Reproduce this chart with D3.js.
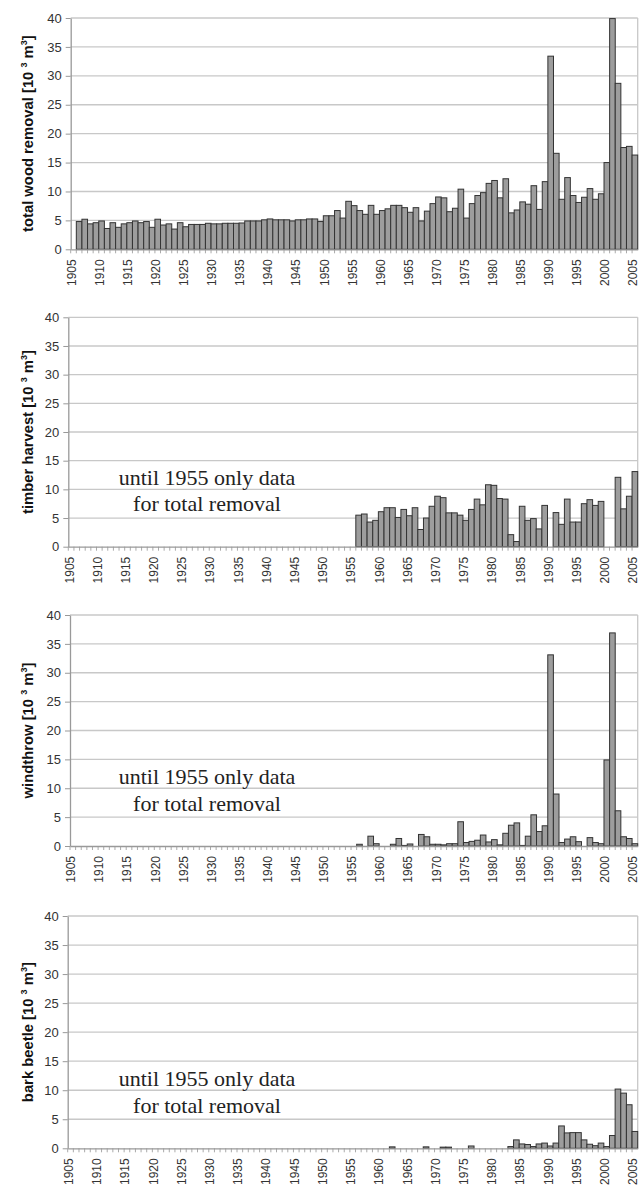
<!DOCTYPE html>
<html lang="en">
<head>
<meta charset="utf-8">
<script src="https://cdn.jsdelivr.net/npm/d3@7"></script>
<style>
  body { margin: 0; background: #fff; }
  svg { display: block; }
</style>
</head>
<body>
<svg id="chart" width="640" height="1187"></svg>
<script>
// categories
var years = d3.range(1905, 2006);
var yTicks = [0, 5, 10, 15, 20, 25, 30, 35, 40];

// total wood removal, 1906-2005 (1905 has no bar)
var totalFirst = 1906;
var totalRemoval = [
  4.8, 5.2, 4.4, 4.6, 4.9, 3.6, 4.6, 3.8, 4.4, 4.6,
  4.9, 4.6, 4.8, 3.8, 5.2, 4.2, 4.4, 3.5, 4.6, 3.9,
  4.3, 4.3, 4.3, 4.5, 4.4, 4.4, 4.5, 4.5, 4.5, 4.55,
  4.9, 4.9, 4.9, 5.1, 5.25, 5.1, 5.1, 5.1, 4.9, 5.1,
  5.1, 5.25, 5.25, 4.8, 5.8, 5.8, 6.7, 5.4, 8.3, 7.55,
  6.7, 6.05, 7.6, 6.05, 6.7, 7.0, 7.6, 7.6, 7.2, 6.4,
  7.2, 4.9, 6.6, 7.9, 9.05, 8.9, 6.5, 7.1, 10.4, 5.4,
  7.9, 9.3, 9.8, 11.4, 11.9, 8.9, 12.2, 6.3, 6.8, 8.2,
  7.8, 11.0, 6.9, 11.7, 33.4, 16.6, 8.65, 12.4, 9.3, 8.1,
  9.0, 10.5, 8.65, 9.6, 15.0, 39.9, 28.7, 17.6, 17.8, 16.3
];

// split series, 1956-2005
var splitFirst = 1956;
var timberHarvest = [
  5.5, 5.7, 4.3, 4.6, 6.1, 6.8, 6.8, 5.1, 6.5, 5.4,
  6.8, 3.0, 5.0, 7.05, 8.8, 8.55, 5.9, 5.9, 5.5, 4.6,
  6.5, 8.3, 7.3, 10.8, 10.7, 8.4, 8.3, 2.1, 0.9, 7.05,
  4.6, 4.9, 3.1, 7.2, 0, 5.95, 3.9, 8.3, 4.3, 4.3,
  7.5, 8.2, 7.2, 7.9, 0, 0, 12.1, 6.6, 8.8, 13.1
];
var windthrow = [
  0.3, 0, 1.7, 0.4, 0, 0, 0.3, 1.3, 0.1, 0.35,
  0, 2.0, 1.6, 0.3, 0.3, 0.2, 0.4, 0.4, 4.2, 0.6,
  0.8, 1.0, 1.9, 0.7, 1.1, 0.2, 2.2, 3.6, 4.0, 0.1,
  1.7, 5.4, 2.5, 3.5, 33.1, 9.0, 0.6, 1.2, 1.6, 0.75,
  0, 1.45, 0.6, 0.4, 14.9, 36.9, 6.1, 1.6, 1.3, 0.4
];
var barkBeetle = [
  0, 0, 0, 0, 0, 0, 0.25, 0, 0, 0,
  0, 0, 0.25, 0, 0, 0.2, 0.2, 0, 0, 0,
  0.4, 0, 0, 0, 0, 0, 0, 0.3, 1.45, 0.75,
  0.65, 0.3, 0.75, 0.9, 0.4, 0.9, 3.85, 2.65, 2.7, 2.7,
  1.45, 0.7, 0.45, 0.9, 0.3, 2.2, 10.2, 9.5, 7.5, 2.9
];

var titles = ["total wood removal", "timber harvest", "windthrow", "bark beetle"];
var noteLines = ["until 1955 only data", "for total removal"];

var panels = [
  { title: titles[0], values: totalRemoval, first: totalFirst, note: false, left: 70.7, top: 18, bottom: 249.3 },
  { title: titles[1], values: timberHarvest, first: splitFirst, note: true, left: 68.3, top: 317.3, bottom: 546.7 },
  { title: titles[2], values: windthrow, first: splitFirst, note: true, left: 70, top: 615, bottom: 846 },
  { title: titles[3], values: barkBeetle, first: splitFirst, note: true, left: 67.7, top: 916, bottom: 1148.3 }
];
var right = 637.7;

var svg = d3.select("#chart");

panels.forEach(function (p) {
  var g = svg.append("g");
  var x = d3.scaleBand().domain(years).range([p.left, right]).padding(0);
  var y = d3.scaleLinear().domain([0, 40]).range([p.bottom, p.top]);

  // grid
  g.selectAll("line.grid")
    .data(yTicks.filter(function (d) { return d > 0; }))
    .enter().append("line")
    .attr("x1", p.left).attr("x2", right)
    .attr("y1", function (d) { return y(d); })
    .attr("y2", function (d) { return y(d); })
    .attr("stroke", "#c8c8c8").attr("stroke-width", 1.3);
  g.append("line")
    .attr("x1", right).attr("x2", right)
    .attr("y1", p.top).attr("y2", p.bottom)
    .attr("stroke", "#c8c8c8").attr("stroke-width", 1.3);

  // minor ticks between categories
  g.selectAll("line.minor")
    .data(years)
    .enter().append("line")
    .attr("x1", function (d) { return x(d); })
    .attr("x2", function (d) { return x(d); })
    .attr("y1", p.bottom).attr("y2", p.bottom + 4)
    .attr("stroke", "#aaa").attr("stroke-width", 1);

  // bars
  var rows = p.values.map(function (v, i) { return { year: p.first + i, value: v }; })
    .filter(function (d) { return d.value > 0; });
  g.selectAll("rect")
    .data(rows)
    .enter().append("rect")
    .attr("x", function (d) { return x(d.year); })
    .attr("width", x.bandwidth())
    .attr("y", function (d) { return y(d.value); })
    .attr("height", function (d) { return p.bottom - y(d.value); })
    .attr("fill", "#9d9d9d")
    .attr("stroke", "#333")
    .attr("stroke-width", 1);

  // y axis
  var ya = g.append("g")
    .attr("transform", "translate(" + p.left + ",0)")
    .call(d3.axisLeft(y).tickValues(yTicks).tickSize(5).tickPadding(4).tickSizeOuter(0));
  ya.select(".domain").attr("stroke", "#999").attr("stroke-width", 1.3);
  ya.selectAll(".tick line").attr("stroke", "#999");
  ya.selectAll(".tick text")
    .attr("font-family", "'Liberation Sans', Arial, sans-serif")
    .attr("font-size", 13).attr("fill", "#333");

  // x axis
  var xa = g.append("g")
    .attr("transform", "translate(0," + p.bottom + ")")
    .call(d3.axisBottom(x).tickValues(years.filter(function (d) { return (d - 1905) % 5 === 0; }))
      .tickSize(0).tickSizeOuter(0));
  xa.select(".domain").attr("stroke", "#999").attr("stroke-width", 1.3);
  xa.selectAll(".tick text")
    .attr("transform", "rotate(-90)")
    .attr("text-anchor", "end")
    .attr("x", -10).attr("y", 0).attr("dy", "0.2em")
    .attr("font-family", "'Liberation Sans', Arial, sans-serif")
    .attr("font-size", 12).attr("fill", "#333");

  // axis title
  var yc = (p.top + p.bottom) / 2;
  var t = g.append("text")
    .attr("transform", "translate(32.5," + yc + ") rotate(-90)")
    .attr("text-anchor", "middle")
    .attr("font-family", "'Liberation Sans', Arial, sans-serif")
    .attr("font-weight", "bold")
    .attr("font-size", 14.8)
    .attr("fill", "#111");
  t.append("tspan").text(p.title + " [10 ");
  t.append("tspan").attr("dy", -6).attr("font-size", 9).text("3");
  t.append("tspan").attr("dy", 6).text(" m");
  t.append("tspan").attr("dy", -6).attr("font-size", 9).text("3");
  t.append("tspan").attr("dy", 6).text("]");

  // note
  if (p.note) {
    g.selectAll("text.note")
      .data(noteLines)
      .enter().append("text")
      .attr("x", 207)
      .attr("y", function (d, i) { return p.bottom - 62 + i * 26.5; })
      .attr("text-anchor", "middle")
      .attr("font-family", "'Liberation Serif', 'Times New Roman', serif")
      .attr("font-size", 22)
      .attr("fill", "#222")
      .text(function (d) { return d; });
  }
});
</script>
</body>
</html>
